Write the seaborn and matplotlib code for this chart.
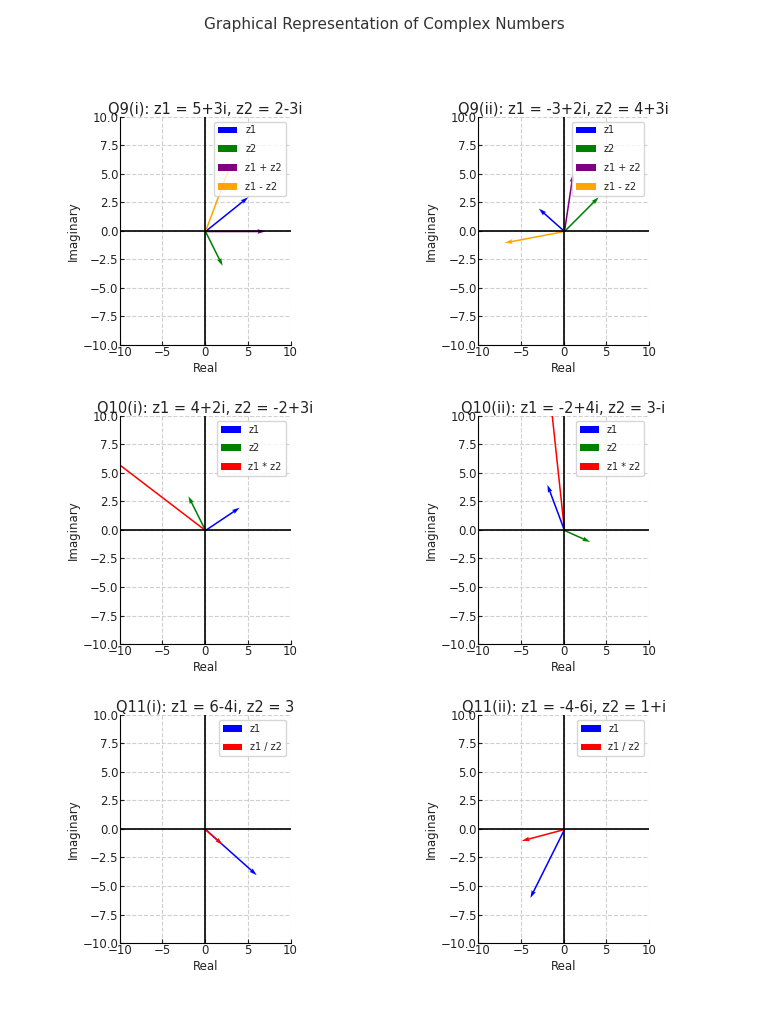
import matplotlib
matplotlib.use('Agg')
import matplotlib.pyplot as plt
import seaborn as sns

#>> Data (real, imaginary parts)
titles = ['Q9(i): z1 = 5+3i, z2 = 2-3i', 'Q9(ii): z1 = -3+2i, z2 = 4+3i',
          'Q10(i): z1 = 4+2i, z2 = -2+3i', 'Q10(ii): z1 = -2+4i, z2 = 3-i',
          'Q11(i): z1 = 6-4i, z2 = 3', 'Q11(ii): z1 = -4-6i, z2 = 1+i']

q9a_labels = ['z1', 'z2', 'z1 + z2', 'z1 - z2']
q9a_re = [5, 2, 7, 3]
q9a_im = [3, -3, 0, 6]

q9b_labels = ['z1', 'z2', 'z1 + z2', 'z1 - z2']
q9b_re = [-3, 4, 1, -7]
q9b_im = [2, 3, 5, -1]

q10a_labels = ['z1', 'z2', 'z1 * z2']
q10a_re = [4, -2, -14]
q10a_im = [2, 3, 8]

q10b_labels = ['z1', 'z2', 'z1 * z2']
q10b_re = [-2, 3, -2]
q10b_im = [4, -1, 14]

q11a_labels = ['z1', 'z1 / z2']
q11a_re = [6, 2]
q11a_im = [-4, -1.333]

q11b_labels = ['z1', 'z1 / z2']
q11b_re = [-4, -5]
q11b_im = [-6, -1]

colors = {'z1': 'blue', 'z2': 'green', 'z1 + z2': 'purple', 'z1 - z2': 'orange',
          'z1 * z2': 'red', 'z1 / z2': 'red'}

panels = [(q9a_labels, q9a_re, q9a_im), (q9b_labels, q9b_re, q9b_im),
          (q10a_labels, q10a_re, q10a_im), (q10b_labels, q10b_re, q10b_im),
          (q11a_labels, q11a_re, q11a_im), (q11b_labels, q11b_re, q11b_im)]

sns.set_style('whitegrid', {'grid.linestyle': '--', 'grid.color': '#d0d0d0',
                            'axes.edgecolor': 'black', 'xtick.direction': 'in',
                            'ytick.direction': 'in', 'xtick.bottom': True, 'ytick.left': True,
                            'text.color': '#222222', 'xtick.color': '#222222',
                            'ytick.color': '#222222', 'axes.labelcolor': '#222222'})
plt.rcParams['font.family'] = ['DejaVu Sans']

fig, axes = plt.subplots(3, 2, figsize=(7.68, 10.24), dpi=100)
fig.subplots_adjust(left=0.156, right=0.845, top=0.886, bottom=0.079, wspace=1.1, hspace=0.31)
fig.suptitle('Graphical Representation of Complex Numbers', y=0.983, fontsize=11, color='#333333')

for ax, title, (labels, re, im) in zip(axes.flat, titles, panels):
    ax.axhline(0, color='black', lw=1.2)
    ax.axvline(0, color='black', lw=1.2)
    for lab, x, y in zip(labels, re, im):
        ax.quiver(0, 0, x, y, angles='xy', scale_units='xy', scale=1,
                  color=colors[lab], label=lab, width=0.009)
    ax.set_xlim(-10, 10)
    ax.set_ylim(-10, 10)
    ax.set_title(title, fontsize=10.5, pad=2)
    ax.set_xlabel('Real', fontsize=8.5, labelpad=2)
    ax.set_ylabel('Imaginary', fontsize=8.5, labelpad=2)
    ax.tick_params(labelsize=8.5, length=3, pad=1)
    ax.legend(loc='upper right', fontsize=7, frameon=True, labelspacing=0.9)
    sns.despine(ax=ax, top=True, right=True)

fig.savefig('out.png', dpi=100)
